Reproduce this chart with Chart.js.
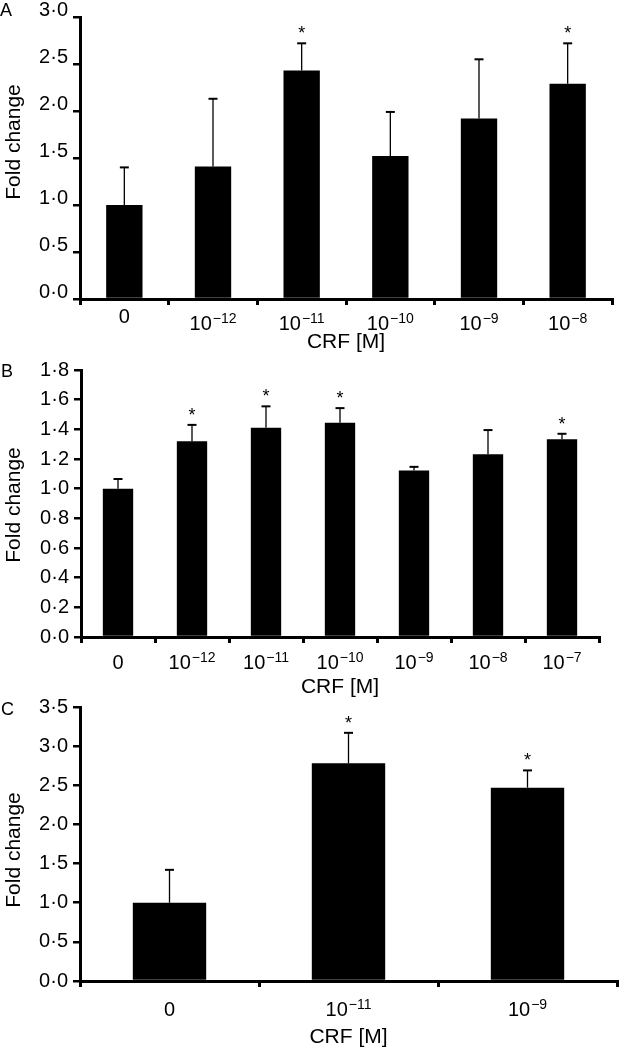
<!DOCTYPE html>
<html>
<head>
<meta charset="utf-8">
<script src="https://cdn.jsdelivr.net/npm/chart.js@4.4.1/dist/chart.umd.min.js"></script>
<style>
  body { margin: 0; background: #fff; }
  #wrap { position: relative; width: 620px; height: 1050px; }
  canvas { position: absolute; left: 0; }
</style>
</head>
<body>
<div id="wrap">
  <canvas id="chartA" width="620" height="360" style="top:0"></canvas>
  <canvas id="chartB" width="620" height="350" style="top:350px"></canvas>
  <canvas id="chartC" width="620" height="360" style="top:690px"></canvas>
</div>
<script>
// panel A
const labelsA = ["0", "10^-12", "10^-11", "10^-10", "10^-9", "10^-8"];
const meansA = [1.0, 1.41, 2.43, 1.52, 1.92, 2.29];
const errA = [0.4, 0.72, 0.29, 0.47, 0.63, 0.43];
const starsA = [false, false, true, false, false, true];

// panel B
const labelsB = ["0", "10^-12", "10^-11", "10^-10", "10^-9", "10^-8", "10^-7"];
const meansB = [1.0, 1.32, 1.41, 1.445, 1.122, 1.232, 1.333];
const errB = [0.065, 0.11, 0.145, 0.098, 0.025, 0.163, 0.037];
const starsB = [false, true, true, true, false, false, true];

// panel C
const labelsC = ["0", "10^-11", "10^-9"];
const meansC = [1.0, 2.78, 2.47];
const errC = [0.42, 0.39, 0.22];
const starsC = [false, true, true];

const FONT = "'Liberation Sans', Arial, sans-serif";
Chart.defaults.font.family = FONT;
Chart.defaults.color = "#000";

// upward error bars + significance stars
const errorBars = {
  id: "errorBars",
  afterDatasetsDraw(chart) {
    const ctx = chart.ctx;
    const y = chart.scales.y;
    const ds = chart.data.datasets[0];
    const bars = chart.getDatasetMeta(0).data;
    ctx.save();
    ctx.strokeStyle = "#000";
    ctx.fillStyle = "#000";
    bars.forEach((bar, i) => {
      const top = y.getPixelForValue(ds.data[i] + ds.errors[i]);
      ctx.lineWidth = 1.3;
      ctx.beginPath();
      ctx.moveTo(bar.x, bar.y);
      ctx.lineTo(bar.x, top);
      ctx.stroke();
      ctx.lineWidth = 2;
      ctx.beginPath();
      ctx.moveTo(bar.x - 4.5, top);
      ctx.lineTo(bar.x + 4.5, top);
      ctx.stroke();
      if (ds.stars[i]) {
        ctx.font = "18px " + FONT;
        ctx.textAlign = "center";
        ctx.textBaseline = "alphabetic";
        ctx.fillText("*", bar.x, top - 4);
      }
    });
    ctx.restore();
  },
};

// x labels with raised exponents, y title and panel letter
const panelText = {
  id: "panelText",
  afterDraw(chart, args, opts) {
    const ctx = chart.ctx;
    const xs = chart.scales.x;
    const axisY = chart.chartArea.bottom;
    ctx.save();
    ctx.fillStyle = "#000";
    ctx.textBaseline = "alphabetic";

    chart.data.labels.forEach((lab, i) => {
      const cx = xs.getPixelForTick(i);
      const parts = lab.split("^");
      if (parts.length === 1) {
        ctx.font = "20px " + FONT;
        ctx.textAlign = "center";
        ctx.fillText(lab, cx, axisY + opts.zeroBase);
        return;
      }
      const exp = parts[1].replace("-", "\u2212");
      ctx.font = "20px " + FONT;
      const w1 = ctx.measureText(parts[0]).width;
      ctx.font = "14px " + FONT;
      const w2 = ctx.measureText(exp).width;
      const left = cx - (w1 + 1 + w2) / 2;
      ctx.textAlign = "left";
      ctx.font = "20px " + FONT;
      ctx.fillText(parts[0], left, axisY + opts.powBase);
      ctx.font = "14px " + FONT;
      ctx.fillText(exp, left + w1 + 1, axisY + opts.powBase - 7.5);
    });

    ctx.save();
    ctx.translate(14, opts.titleY);
    ctx.rotate(-Math.PI / 2);
    ctx.font = "21px " + FONT;
    ctx.textAlign = "center";
    ctx.textBaseline = "middle";
    ctx.fillText("Fold change", 0, 0);
    ctx.restore();

    ctx.font = "18px " + FONT;
    ctx.textAlign = "left";
    ctx.fillText(opts.letter, opts.letterX, opts.letterY);
    ctx.restore();
  },
};

function makePanel(id, labels, means, errors, stars, yMax, yStep, opt) {
  return new Chart(document.getElementById(id), {
    type: "bar",
    data: {
      labels: labels,
      datasets: [
        {
          data: means,
          errors: errors,
          stars: stars,
          backgroundColor: "#000",
          borderWidth: 0,
          barPercentage: 0.41,
          categoryPercentage: 1,
        },
      ],
    },
    options: {
      responsive: false,
      animation: false,
      devicePixelRatio: 1,
      layout: { padding: { top: opt.top, right: opt.right, left: 0, bottom: 0 } },
      plugins: {
        legend: { display: false },
        tooltip: { enabled: false },
        panelText: opt.text,
      },
      scales: {
        x: {
          grid: {
            offset: true,
            drawOnChartArea: false,
            drawTicks: true,
            tickLength: 6,
            lineWidth: 3,
            color: "#000",
          },
          border: { color: "#000", width: 3 },
          ticks: { display: false },
          title: {
            display: true,
            text: "CRF [M]",
            font: { size: 21 },
            padding: { top: 0, bottom: opt.xTitlePad },
          },
          afterFit: (s) => {
            s.height = opt.xHeight;
          },
        },
        y: {
          min: 0,
          max: yMax,
          grid: {
            drawOnChartArea: false,
            drawTicks: true,
            tickLength: 7,
            lineWidth: 2.5,
            color: "#000",
          },
          border: { color: "#000", width: 3 },
          ticks: {
            stepSize: yStep,
            font: { size: 20 },
            padding: 5,
            labelOffset: opt.yLabelOffset,
            callback: (v) => v.toFixed(1).replace(".", "·"),
          },
          afterFit: (s) => {
            s.width = opt.yWidth;
          },
        },
      },
    },
    plugins: [errorBars, panelText],
  });
}

makePanel("chartA", labelsA, meansA, errA, starsA, 3.0, 0.5, {
  top: 14, right: 8, yWidth: 80, xHeight: 61, xTitlePad: 5, yLabelOffset: -7,
  text: { letter: "A", letterX: 0, letterY: 16, titleY: 142, zeroBase: 24, powBase: 31 },
});

makePanel("chartB", labelsB, meansB, errB, starsB, 1.8, 0.2, {
  top: 20, right: 21, yWidth: 81, xHeight: 63, xTitlePad: 0.4, yLabelOffset: 0,
  text: { letter: "B", letterX: 1, letterY: 27, titleY: 155, zeroBase: 32, powBase: 32 },
});

makePanel("chartC", labelsC, meansC, errC, starsC, 3.5, 0.5, {
  top: 16, right: 3, yWidth: 80, xHeight: 69, xTitlePad: 0, yLabelOffset: 0,
  text: { letter: "C", letterX: 1, letterY: 25, titleY: 160, zeroBase: 35, powBase: 35 },
});
</script>
</body>
</html>
